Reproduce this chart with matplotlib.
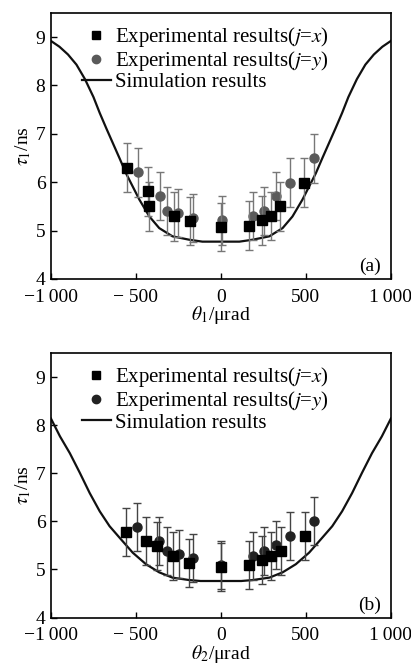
import matplotlib
matplotlib.use("Agg")
import matplotlib.pyplot as plt
from matplotlib.lines import Line2D

plt.rcParams["font.family"] = ["Liberation Serif", "DejaVu Serif"]
plt.rcParams["mathtext.fontset"] = "stix"

# ---- panel (a) ----
a_x_sq = [-553, -431, -422, -278, -184, 0, 163, 243, 296, 349, 490]
a_y_sq = [6.30, 5.81, 5.50, 5.29, 5.20, 5.07, 5.10, 5.21, 5.30, 5.50, 5.99]
a_x_ci = [-488, -360, -320, -250, -165, 4, 186, 251, 324, 404, 547]
a_y_ci = [6.20, 5.72, 5.40, 5.36, 5.26, 5.21, 5.30, 5.41, 5.72, 5.99, 6.49]
a_err = 0.5

a_sim_x = [-1000, -950, -900, -850, -800, -750, -713, -674, -635, -596, -558,
           -519, -480, -421, -363, -285, -187, -109, 0,
           109, 187, 285, 363, 421, 480, 519, 558, 596, 635, 674, 713,
           750, 800, 850, 900, 950, 1000]
a_sim_y = [8.92, 8.80, 8.64, 8.43, 8.13, 7.76, 7.43, 7.11, 6.80, 6.49, 6.18,
           5.91, 5.64, 5.29, 5.05, 4.88, 4.81, 4.77, 4.77,
           4.77, 4.81, 4.88, 5.05, 5.29, 5.64, 5.91, 6.18, 6.49, 6.80, 7.11, 7.43,
           7.76, 8.13, 8.43, 8.64, 8.80, 8.92]

# ---- panel (b) ----
b_x_sq = [-557, -439, -376, -284, -188, 0, 163, 243, 294, 355, 492]
b_y_sq = [5.78, 5.59, 5.48, 5.29, 5.13, 5.05, 5.09, 5.19, 5.29, 5.39, 5.70]
b_x_ci = [-496, -363, -318, -249, -167, 0, 186, 251, 324, 404, 547]
b_y_ci = [5.89, 5.60, 5.39, 5.33, 5.24, 5.10, 5.29, 5.39, 5.50, 5.70, 6.00]
b_err = 0.5

b_sim_x = [-1000, -947, -889, -830, -772, -713, -655, -596, -519, -441, -363,
           -285, -187, -120, 0,
           120, 187, 285, 363, 441, 519, 596, 655, 713, 772, 830, 889, 947, 1000]
b_sim_y = [8.14, 7.77, 7.42, 7.01, 6.59, 6.21, 5.90, 5.66, 5.35, 5.11, 4.94,
           4.83, 4.78, 4.76, 4.76,
           4.76, 4.78, 4.83, 4.94, 5.11, 5.35, 5.66, 5.90, 6.21, 6.59, 7.01, 7.42, 7.77, 8.14]

xticks = [-1000, -500, 0, 500, 1000]
xticklabels = ["\u22121\u2009000", "\u2212 500", "0", "500", "1\u2009000"]
yticks = [4, 5, 6, 7, 8, 9]

fig = plt.figure(figsize=(4.11, 6.64), dpi=100)
ax_a = fig.add_axes([0.124, 0.580, 0.827, 0.4006])
ax_b = fig.add_axes([0.124, 0.0700, 0.827, 0.3980])

panels = [
    (ax_a, a_x_sq, a_y_sq, a_x_ci, a_y_ci, a_err, a_sim_x, a_sim_y,
     "#5a5a5a", "#777777", r"$\theta_1$/μrad", "(a)", -1),
    (ax_b, b_x_sq, b_y_sq, b_x_ci, b_y_ci, b_err, b_sim_x, b_sim_y,
     "#222222", "#444444", r"$\theta_2$/μrad", "(b)", -1),
]

for ax, xs, ys, xc, yc, err, sx, sy, ccol, ecol, xlab, tag, lpad in panels:
    ax.plot(sx, sy, color="#111111", lw=1.6, zorder=2)
    ax.errorbar(xc, yc, yerr=err, fmt="o", ms=6.5, color=ccol, ecolor=ecol,
                elinewidth=1.0, capsize=3, capthick=1.0, zorder=3)
    ax.errorbar(xs, ys, yerr=err, fmt="s", ms=7, color="black", ecolor=ecol,
                elinewidth=1.0, capsize=3, capthick=1.0, zorder=4)

    ax.set_xlim(-1000, 1000)
    ax.set_ylim(4, 9.5)
    ax.set_xticks(xticks)
    ax.set_xticklabels(xticklabels)
    ax.set_yticks(yticks)
    ax.tick_params(direction="in", length=4, width=1, labelsize=14,
                   top=False, right=False)
    ax.tick_params(axis="x", pad=7)
    ax.tick_params(axis="y", pad=4)
    for s in ax.spines.values():
        s.set_linewidth(1.2)
    ax.set_xlabel(xlab, fontsize=14, labelpad=lpad)
    ax.set_ylabel(r"$\tau_1$/ns", fontsize=14, labelpad=2)
    ax.text(0.97, 0.015, tag, transform=ax.transAxes, ha="right", va="bottom",
            fontsize=14)

    handles = [
        Line2D([], [], ls="none", marker="s", ms=6, color="black"),
        Line2D([], [], ls="none", marker="o", ms=6, color=ccol),
        Line2D([], [], color="#111111", lw=1.6),
    ]
    labels = [r"Experimental results($j$=$x$)",
              r"Experimental results($j$=$y$)",
              "Simulation results"]
    ax.legend(handles, labels, loc="upper left", bbox_to_anchor=(0.09, 0.955),
              frameon=False, fontsize=15, handlelength=1.4, handletextpad=0.2,
              labelspacing=0.0, borderaxespad=0, borderpad=0)

fig.savefig("out.png", dpi=100)
